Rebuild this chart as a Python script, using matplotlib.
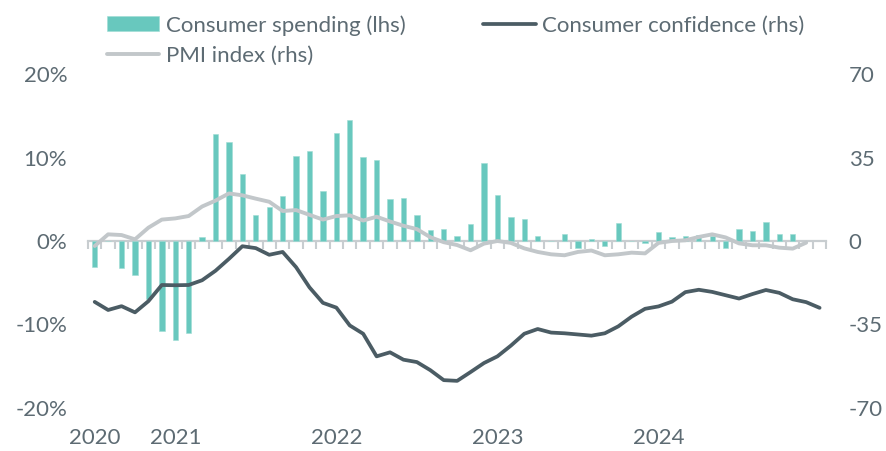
import matplotlib
matplotlib.use("Agg")
import matplotlib.pyplot as plt
import numpy as np
import pandas as pd

plt.rcParams['font.family'] = ['Lato', 'DejaVu Sans']

# monthly data, Jul 2020 - Jan 2025
months = pd.period_range('2020-07', '2025-01', freq='M')

# consumer spending, % (lhs), Jul 2020 - Nov 2024
spending = [-3.1, 0.0, -3.2, -4.1, -7.0, -10.8, -11.9, -11.0, 0.5, 12.9,
            11.9, 8.1, 3.1, 4.1, 5.4, 10.2, 10.8, 6.0, 13.0, 14.5,
            10.1, 9.7, 5.1, 5.2, 3.1, 1.3, 1.4, 0.65, 2.0, 9.4,
            5.5, 2.9, 2.6, 0.65, 0.0, 0.8, -0.8, 0.3, -0.65, 2.2,
            0.0, -0.3, 1.1, 0.5, 0.6, 0.7, 0.55, -0.8, 1.45, 1.25,
            2.25, 0.85, 0.85]

# PMI index (rhs), Jul 2020 - Dec 2024
pmi = [-2.1, 2.8, 2.5, 0.7, 5.6, 9.0, 9.5, 10.5, 14.5, 17.0,
       20.0, 19.2, 17.8, 16.5, 12.6, 13.0, 11.0, 9.0, 10.5, 10.8,
       8.6, 10.2, 8.2, 6.4, 5.0, 1.6, -0.5, -1.7, -3.9, -1.1,
       0.0, -0.8, -3.1, -4.6, -5.6, -6.0, -4.6, -4.0, -6.0, -5.6,
       -4.9, -5.2, -0.8, 0.0, 0.3, 1.7, 2.8, 1.5, -1.0, -1.8,
       -1.8, -2.8, -3.2, -0.7]

# consumer confidence (rhs), Jul 2020 - Jan 2025
confidence = [-25.6, -29.0, -27.4, -30.0, -25.3, -18.5, -18.6, -18.5, -16.5, -12.5,
              -7.5, -2.2, -3.0, -5.8, -4.6, -11.0, -19.5, -26.0, -28.0, -35.5,
              -39.0, -48.5, -46.8, -49.9, -50.9, -54.3, -58.5, -58.8, -55.1, -51.3,
              -48.5, -44.0, -39.0, -37.0, -38.5, -38.8, -39.3, -39.8, -38.8, -35.9,
              -31.8, -28.5, -27.5, -25.5, -21.5, -20.5, -21.4, -22.8, -24.2, -22.3,
              -20.6, -21.8, -24.5, -25.7, -28.1]

years = [2020, 2021, 2022, 2023, 2024]
lhs_ticks = [-20, -10, 0, 10, 20]
rhs_ticks = [-70, -35, 0, 35, 70]

teal = '#68c8be'
dark = '#4b5c64'
grey = '#c2c7ca'
axis_grey = '#c8cdd0'
txt = '#5d6b73'

fig = plt.figure(figsize=(8.87, 4.51), dpi=100)
ax = fig.add_axes([88 / 887, 43.5 / 451, 738.3 / 887, 333 / 451])
ax2 = ax.twinx()

x = np.arange(len(months))

bars = ax.bar(x[:len(spending)], spending, width=0.4, color=teal,
              edgecolor='#9fdcd5', linewidth=0.4, zorder=3,
              label='Consumer spending (lhs)')
pmi_line, = ax2.plot(x[:len(pmi)], pmi, color=grey, lw=2.8,
                     solid_capstyle='round', solid_joinstyle='round',
                     label='PMI index (rhs)', zorder=3)
conf_line, = ax2.plot(x[:len(confidence)], confidence, color=dark, lw=2.7,
                      solid_capstyle='round', solid_joinstyle='round',
                      label='Consumer confidence (rhs)', zorder=4)

ax.set_xlim(-0.5, len(months) - 0.5)
ax.set_ylim(-20, 20)
ax2.set_ylim(-70, 70)

for a in (ax, ax2):
    for s in a.spines.values():
        s.set_visible(False)
ax.spines['bottom'].set_visible(True)
ax.spines['bottom'].set_position(('data', 0))
ax.spines['bottom'].set_color(axis_grey)
ax.spines['bottom'].set_linewidth(1.6)
ax.spines['bottom'].set_zorder(2)

# small tick marks between months along the zero line
ax.set_xticks(np.arange(-0.5, len(months), 1.0))
ax.tick_params(axis='x', which='major', direction='out', length=5.5,
               width=1.5, color=axis_grey, labelbottom=False)

ax.set_yticks(lhs_ticks)
ax.set_yticklabels([f'{t}%' for t in lhs_ticks])
ax.tick_params(axis='y', length=0, pad=15, labelsize=16, labelcolor=txt)
ax2.set_yticks(rhs_ticks)
ax2.set_yticklabels([str(t) for t in rhs_ticks])
ax2.tick_params(axis='y', length=0, pad=16, labelsize=16, labelcolor=txt)

# year labels under the plot
for yr in years:
    pos = next(i for i, m in enumerate(months) if m.year == yr)
    ax.text(pos, -0.092, str(yr), transform=ax.get_xaxis_transform(),
            ha='center', va='center', fontsize=16, color=txt)

leg = fig.legend([bars, pmi_line, conf_line],
                 ['Consumer spending (lhs)', 'PMI index (rhs)',
                  'Consumer confidence (rhs)'],
                 ncol=2, loc='upper left', bbox_to_anchor=(107 / 887, 1 - 15 / 451),
                 frameon=False, fontsize=16, handlelength=2.35,
                 handleheight=0.65, handletextpad=0.3, columnspacing=3.5,
                 labelspacing=0.45, borderpad=0, borderaxespad=0)
for t in leg.get_texts():
    t.set_color(txt)

fig.savefig('out.png', dpi=100)
